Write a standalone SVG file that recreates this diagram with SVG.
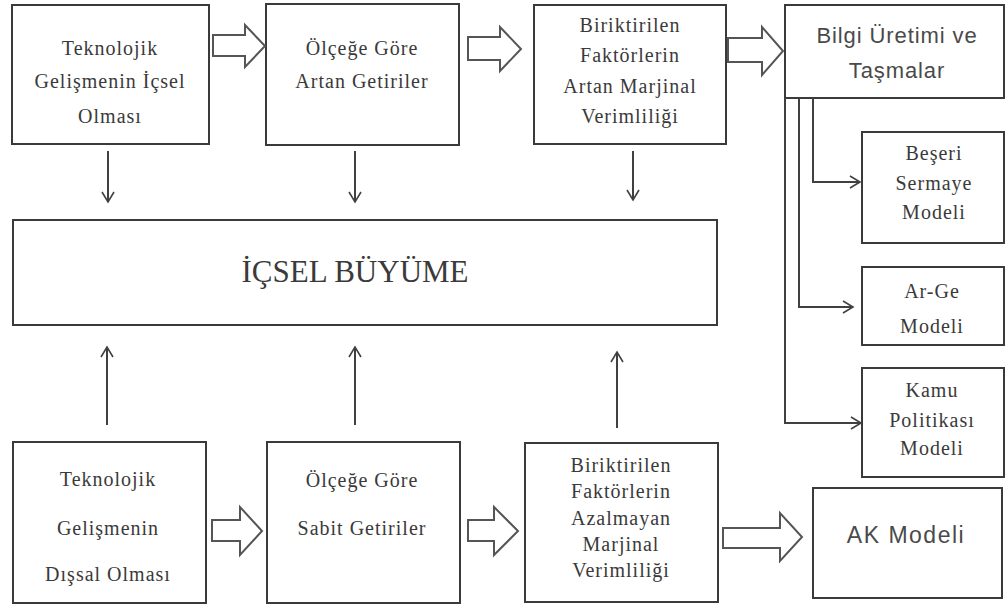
<svg xmlns="http://www.w3.org/2000/svg" width="1008" height="608" viewBox="0 0 1008 608">
  <style>
    .box { fill: #fff; stroke: #3a3a3a; stroke-width: 2; }
    .serif { font-family: "Liberation Serif", "DejaVu Serif", serif; font-size: 20px; fill: #3a3a3a; text-anchor: middle; letter-spacing: 1px; }
    .sans { font-family: "Liberation Sans", "DejaVu Sans", sans-serif; font-size: 22px; fill: #4a4a4a; text-anchor: middle; letter-spacing: 0.9px; }
    .big { font-size: 31px; letter-spacing: 0; }
    .link { fill: none; stroke: #404040; stroke-width: 2; }
    .block { fill: #fff; stroke: #555; stroke-width: 2; stroke-linejoin: miter; }
  </style>
  <defs>
    <marker id="open" markerUnits="userSpaceOnUse" markerWidth="14" markerHeight="14" refX="11" refY="7" orient="auto">
      <path d="M1,1 L11,7 L1,13" fill="none" stroke="#404040" stroke-width="1.6"/>
    </marker>
  </defs>
  <rect width="1008" height="608" fill="#fff"/>

  <!-- top row -->
  <g id="n-icsel-teknoloji">
    <rect class="box" x="12" y="5" width="197" height="139"/>
    <text class="serif" x="110" y="55">Teknolojik</text>
    <text class="serif" x="110" y="88">Gelişmenin İçsel</text>
    <text class="serif" x="110" y="123">Olması</text>
  </g>
  <g id="n-artan-getiri">
    <rect class="box" x="266" y="4" width="193" height="141"/>
    <text class="serif" x="362" y="55">Ölçeğe Göre</text>
    <text class="serif" x="362" y="88">Artan Getiriler</text>
  </g>
  <g id="n-artan-verim">
    <rect class="box" x="534" y="5" width="192" height="139"/>
    <text class="serif" x="630" y="32">Biriktirilen</text>
    <text class="serif" x="630" y="62">Faktörlerin</text>
    <text class="serif" x="630" y="93">Artan Marjinal</text>
    <text class="serif" x="630" y="123">Verimliliği</text>
  </g>
  <g id="n-bilgi">
    <rect class="box" x="785" y="5" width="219" height="93"/>
    <text class="sans" x="897" y="43">Bilgi Üretimi ve</text>
    <text class="sans" x="897" y="78">Taşmalar</text>
  </g>

  <!-- central node -->
  <g id="n-icsel-buyume">
    <rect class="box" x="13" y="220" width="704" height="105"/>
    <text class="serif big" x="355" y="282">İÇSEL BÜYÜME</text>
  </g>

  <!-- model boxes on the right -->
  <g id="n-beseri">
    <rect class="box" x="862" y="132" width="142" height="111"/>
    <text class="serif" x="934" y="160">Beşeri</text>
    <text class="serif" x="934" y="190">Sermaye</text>
    <text class="serif" x="934" y="219">Modeli</text>
  </g>
  <g id="n-arge">
    <rect class="box" x="862" y="267" width="142" height="78"/>
    <text class="serif" x="932" y="298">Ar-Ge</text>
    <text class="serif" x="932" y="333">Modeli</text>
  </g>
  <g id="n-kamu">
    <rect class="box" x="862" y="368" width="142" height="109"/>
    <text class="serif" x="932" y="397">Kamu</text>
    <text class="serif" x="932" y="427">Politikası</text>
    <text class="serif" x="932" y="455">Modeli</text>
  </g>

  <!-- bottom row -->
  <g id="n-dissal-teknoloji">
    <rect class="box" x="13" y="442" width="193" height="161"/>
    <text class="serif" x="108" y="486">Teknolojik</text>
    <text class="serif" x="108" y="535">Gelişmenin</text>
    <text class="serif" x="108" y="581">Dışsal Olması</text>
  </g>
  <g id="n-sabit-getiri">
    <rect class="box" x="267" y="442" width="193" height="161"/>
    <text class="serif" x="362" y="487">Ölçeğe Göre</text>
    <text class="serif" x="362" y="535">Sabit Getiriler</text>
  </g>
  <g id="n-azalmayan-verim">
    <rect class="box" x="525" y="443" width="193" height="159"/>
    <text class="serif" x="621" y="472">Biriktirilen</text>
    <text class="serif" x="621" y="498">Faktörlerin</text>
    <text class="serif" x="621" y="525">Azalmayan</text>
    <text class="serif" x="621" y="551">Marjinal</text>
    <text class="serif" x="621" y="577">Verimliliği</text>
  </g>
  <g id="n-ak">
    <rect class="box" x="813" y="488" width="189" height="110"/>
    <text class="sans" x="906" y="543" style="font-size:23px;letter-spacing:1.5px">AK Modeli</text>
  </g>

  <g id="connectors">
    <!-- hollow block arrows along the rows -->
    <polygon class="block" points="213,35 245,35 245,25 265,46 245,67 245,56 213,56"/>
    <polygon class="block" points="468,37 500,37 500,27 521,49 500,71 500,60 468,60"/>
    <polygon class="block" points="728,38 762,38 762,27 783,51 762,75 762,62 728,62"/>
    <polygon class="block" points="212,520 240,520 240,507 262,531 240,555 240,541 212,541"/>
    <polygon class="block" points="468,520 494,520 494,507 518,531 494,555 494,541 468,541"/>
    <polygon class="block" points="723,528 780,528 780,513 802,537 780,561 780,548 723,548"/>

    <!-- into the central node from above -->
    <line class="link" x1="108" y1="151" x2="108" y2="202" marker-end="url(#open)"/>
    <line class="link" x1="355" y1="151" x2="355" y2="202" marker-end="url(#open)"/>
    <line class="link" x1="633" y1="151" x2="633" y2="200" marker-end="url(#open)"/>

    <!-- into the central node from below -->
    <line class="link" x1="107" y1="425" x2="107" y2="347" marker-end="url(#open)"/>
    <line class="link" x1="355" y1="425" x2="355" y2="347" marker-end="url(#open)"/>
    <line class="link" x1="617" y1="428" x2="617" y2="352" marker-end="url(#open)"/>

    <!-- branches to the three models -->
    <polyline class="link" points="813,98 813,182 860,182" marker-end="url(#open)"/>
    <polyline class="link" points="799,98 799,307 853,307" marker-end="url(#open)"/>
    <polyline class="link" points="785,98 785,423 861,423" marker-end="url(#open)"/>
  </g>
</svg>
